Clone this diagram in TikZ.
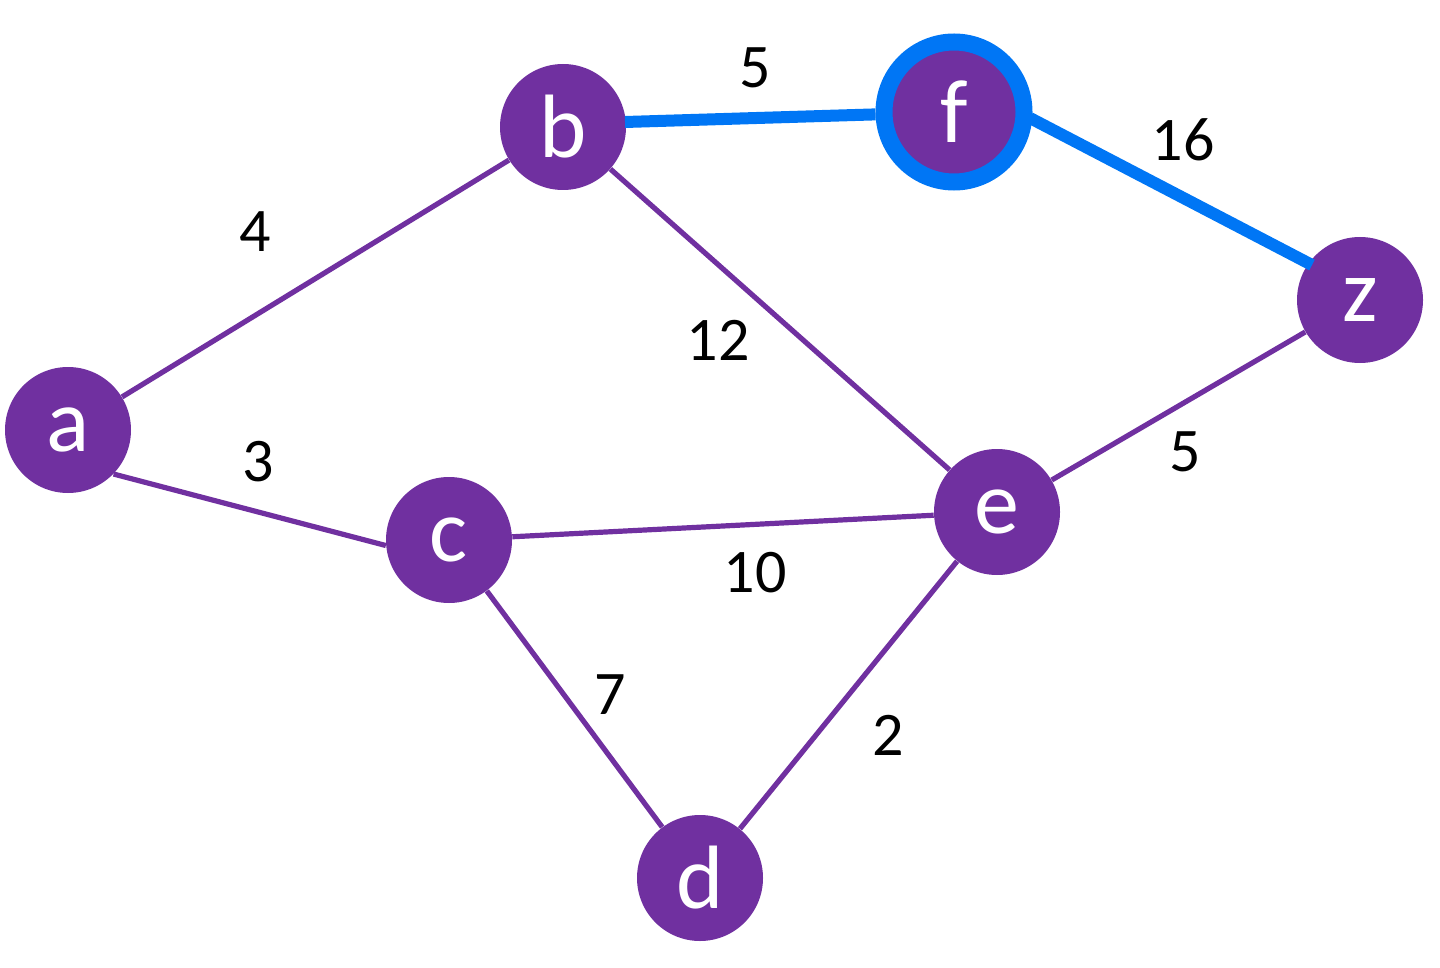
\documentclass[tikz,border=0pt]{standalone}
\usepackage{fontspec}
\setmainfont{Carlito}
\definecolor{nodepurple}{RGB}{112,48,160}
\definecolor{hlblue}{RGB}{0,118,245}
\tikzset{
  vert/.style={circle, fill=nodepurple, text=white, minimum size=63pt, inner sep=0pt, font=\fontsize{45}{45}\selectfont},
  edge/.style={draw=nodepurple, line width=2.6pt},
  hledge/.style={draw=hlblue, line width=6pt},
  wlabel/.style={font=\fontsize{31}{31}\selectfont, text=black, inner sep=0pt}
}
\begin{document}
\begin{tikzpicture}[x=0.5pt,y=-0.5pt]
\useasboundingbox (0,0) rectangle (1440,968);
\node[vert] (a) at (68,430) {a};
\node[vert] (b) at (563,127) {b};
\node[vert, draw=hlblue, line width=8.5pt, minimum size=70pt] (f) at (954,112) {f};
\node[vert] (z) at (1360,300) {z};
\node[vert] (c) at (449,540) {c};
\node[vert] (e) at (997,512) {e};
\node[vert] (d) at (700,878) {d};
\draw[edge] (a) -- (b);
\draw[edge] (a.-44) -- (c.185);
\draw[edge] (b) -- (e);
\draw[edge] (c) -- (e);
\draw[edge] (c) -- (d);
\draw[edge] (d) -- (e);
\draw[edge] (e) -- (z);
\coordinate (bstart) at (625,122);
\draw[hledge] (bstart) -- (f);
\coordinate (fstart) at (1030,118);
\coordinate (zin) at (1312,265);
\draw[hledge] (fstart) -- (zin);
\node[wlabel] (l5a) at (755,68) {5};
\node[wlabel] (l16) at (1183,140) {16};
\node[wlabel] (l4) at (255,232) {4};
\node[wlabel] (l12) at (718,340) {12};
\node[wlabel] (l3) at (258,462) {3};
\node[wlabel] (l5b) at (1185,452) {5};
\node[wlabel] (l10) at (755,573) {10};
\node[wlabel] (l7) at (610,695) {7};
\node[wlabel] (l2) at (888,735) {2};
\end{tikzpicture}
\end{document}
